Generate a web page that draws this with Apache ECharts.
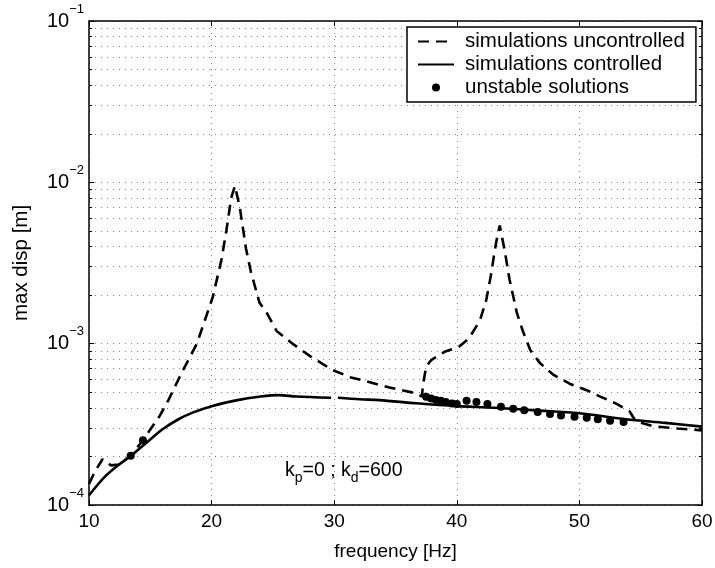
<!DOCTYPE html>
<html>
<head>
<meta charset="utf-8">
<script src="https://cdn.jsdelivr.net/npm/echarts@6/dist/echarts.min.js"></script>
<style>
html,body{margin:0;padding:0;background:#fff}
#main{width:715px;height:568px}
</style>
</head>
<body>
<div id="main"></div>
<script>
// values
var freqUnc = [10.0, 10.5, 11.1, 11.8, 12.4, 13.4, 14.4, 15.8, 16.5, 17.6, 18.8, 20.1, 20.8, 21.2, 21.6, 21.9, 22.3, 22.8, 23.2, 23.9, 24.5, 25.3, 26.6, 28.0, 29.8, 31.3, 32.4, 34.5, 36.7, 37.15, 37.25, 37.5, 37.9, 39.0, 40.2, 41.0, 41.9, 42.4, 42.8, 43.1, 43.3, 43.5, 43.9, 44.3, 44.9, 45.4, 46.0, 46.8, 47.9, 49.2, 50.6, 51.7, 53.0, 54.1, 54.6, 56.0, 58.0, 60.0];
var dispUnc = [1.35e-4, 1.62e-4, 1.92e-4, 1.76e-4, 1.78e-4, 2.02e-4, 2.52e-4, 3.6e-4, 4.5e-4, 6.7e-4, 1.0e-3, 1.95e-3, 3.3e-3, 5.0e-3, 8.0e-3, 9.5e-3, 7.0e-3, 3.9e-3, 2.8e-3, 1.8e-3, 1.55e-3, 1.2e-3, 1.0e-3, 8.4e-4, 6.9e-4, 6.2e-4, 5.9e-4, 5.35e-4, 4.92e-4, 4.7e-4, 5.6e-4, 7.2e-4, 7.9e-4, 8.9e-4, 9.6e-4, 1.08e-3, 1.4e-3, 1.86e-3, 2.7e-3, 3.8e-3, 4.6e-3, 5.4e-3, 3.8e-3, 2.5e-3, 1.55e-3, 1.19e-3, 9.1e-4, 7.55e-4, 6.4e-4, 5.65e-4, 5.15e-4, 4.7e-4, 4.25e-4, 3.8e-4, 3.3e-4, 3.08e-4, 2.98e-4, 2.9e-4];

var freqCtl = [10.0, 11.3, 12.4, 13.5, 15.0, 16.0, 17.3, 18.5, 20.0, 22.0, 24.0, 25.5, 26.9, 29.75, 30.0, 30.3, 32.1, 33.7, 36.7, 40.0, 43.0, 46.5, 50.0, 53.8, 57.0, 60.0];
var dispCtl = [1.15e-4, 1.5e-4, 1.77e-4, 2.04e-4, 2.55e-4, 2.95e-4, 3.4e-4, 3.75e-4, 4.1e-4, 4.45e-4, 4.7e-4, 4.8e-4, 4.7e-4, 4.62e-4, null, 4.62e-4, 4.52e-4, 4.47e-4, 4.27e-4, 4.1e-4, 4.01e-4, 3.86e-4, 3.7e-4, 3.4e-4, 3.23e-4, 3.06e-4];

var freqUnst = [13.4, 14.4, 37.5, 37.9, 38.3, 38.7, 39.1, 39.6, 40.0, 40.8, 41.6, 42.5, 43.6, 44.6, 45.5, 46.6, 47.6, 48.5, 49.6, 50.6, 51.5, 52.5, 53.6];
var dispUnst = [2.02e-4, 2.52e-4, 4.69e-4, 4.58e-4, 4.47e-4, 4.43e-4, 4.35e-4, 4.26e-4, 4.22e-4, 4.43e-4, 4.35e-4, 4.22e-4, 4.07e-4, 3.95e-4, 3.86e-4, 3.77e-4, 3.67e-4, 3.59e-4, 3.52e-4, 3.47e-4, 3.40e-4, 3.33e-4, 3.27e-4];

var xTicks = [10, 20, 30, 40, 50, 60];
var yTickExp = [-4, -3, -2, -1];

var FONT = 'Liberation Sans, Arial, Helvetica, sans-serif';

function pairs(xs, ys) {
    return xs.map(function (x, i) { return [x, ys[i]]; });
}

var chart = echarts.init(document.getElementById('main'));

var dotted = {color: '#808080', width: 1, type: [1, 5]};
var noMark = {color: 'rgba(0,0,0,0)', borderColor: 'rgba(0,0,0,0)', borderWidth: 0};

var option = {
    backgroundColor: '#fff',
    animation: false,
    grid: {left: 89, right: 13, top: 21, bottom: 63, containLabel: false, outerBoundsMode: 'none'},
    legend: {
        orient: 'vertical',
        left: 407, top: 27,
        padding: [4, 11, 4, 10],
        itemWidth: 36, itemHeight: 8, itemGap: 2,
        borderColor: '#000', borderWidth: 1.5,
        backgroundColor: '#fff',
        textStyle: {fontFamily: FONT, fontSize: 20.5, color: '#000', padding: [0, 0, 0, 6]},
        data: [
            {name: 'simulations uncontrolled', itemStyle: noMark},
            {name: 'simulations controlled', itemStyle: noMark},
            {name: 'unstable solutions'}
        ]
    },
    xAxis: [{
        type: 'value', min: xTicks[0], max: xTicks[xTicks.length - 1], interval: 10,
        name: 'frequency [Hz]', nameLocation: 'middle', nameGap: 37,
        nameTextStyle: {fontFamily: FONT, fontSize: 19, color: '#000'},
        axisLine: {show: true, lineStyle: {color: '#000', width: 1.5}},
        axisTick: {show: true, inside: true, length: 5, lineStyle: {color: '#000'}},
        axisLabel: {fontFamily: FONT, fontSize: 19, color: '#000', margin: 7},
        splitLine: {show: true, lineStyle: dotted}
    }, {
        type: 'value', position: 'top', min: xTicks[0], max: xTicks[xTicks.length - 1], interval: 10,
        axisLine: {show: true, onZero: false, lineStyle: {color: '#000', width: 1.5}},
        axisTick: {show: true, inside: true, length: 5, lineStyle: {color: '#000'}},
        axisLabel: {show: false},
        splitLine: {show: false}
    }],
    yAxis: [{
        type: 'log', logBase: 10, min: Math.pow(10, yTickExp[0]), max: Math.pow(10, yTickExp[yTickExp.length - 1]),
        name: 'max disp [m]', nameLocation: 'middle', nameGap: 57,
        nameTextStyle: {fontFamily: FONT, fontSize: 20.5, color: '#000'},
        axisLine: {show: true, lineStyle: {color: '#000', width: 1.5}},
        axisTick: {show: true, inside: true, length: 5, lineStyle: {color: '#000'}},
        minorTick: {show: true, splitNumber: 9, length: 3, lineStyle: {color: '#000'}},
        minorSplitLine: {show: true, lineStyle: dotted},
        splitLine: {show: true, lineStyle: dotted},
        axisLabel: {
            margin: 5,
            formatter: function (v) {
                var e = Math.round(Math.log(v) / Math.LN10);
                return '{b|10}{s|\u2212' + Math.abs(e) + '}';
            },
            rich: {
                b: {fontFamily: FONT, fontSize: 20, color: '#000', lineHeight: 37, verticalAlign: 'middle'},
                s: {fontFamily: FONT, fontSize: 13, color: '#000', lineHeight: 6, verticalAlign: 'top'}
            }
        }
    }, {
        type: 'log', logBase: 10, position: 'right', min: Math.pow(10, yTickExp[0]), max: Math.pow(10, yTickExp[yTickExp.length - 1]),
        axisLine: {show: true, lineStyle: {color: '#000', width: 1.5}},
        axisTick: {show: true, inside: true, length: 5, lineStyle: {color: '#000'}},
        minorTick: {show: true, splitNumber: 9, length: 3, lineStyle: {color: '#000'}},
        axisLabel: {show: false},
        splitLine: {show: false}
    }],
    graphic: [{
        type: 'text', left: 285, top: 461,
        style: {
            text: '{a|k}{b|p}{a|=0 ; k}{b|d}{a|=600}',
            rich: {
                a: {fontFamily: FONT, fontSize: 19.5, fill: '#000', lineHeight: 21, verticalAlign: 'top'},
                b: {fontFamily: FONT, fontSize: 14, fill: '#000', lineHeight: 24, verticalAlign: 'bottom'}
            }
        }
    }],
    series: [{
        name: 'simulations uncontrolled', type: 'line',
        data: pairs(freqUnc, dispUnc),
        showSymbol: false, symbol: 'none',
        lineStyle: {color: '#000', width: 2.6, type: [11, 7]},
        itemStyle: {color: '#000'},
        z: 3
    }, {
        name: 'simulations controlled', type: 'line',
        data: pairs(freqCtl, dispCtl),
        showSymbol: false, symbol: 'none', smooth: 0.3,
        lineStyle: {color: '#000', width: 2.6},
        itemStyle: {color: '#000'},
        z: 3
    }, {
        name: 'unstable solutions', type: 'scatter',
        data: pairs(freqUnst, dispUnst),
        symbol: 'circle', symbolSize: 8,
        itemStyle: {color: '#000', opacity: 1},
        z: 4
    }]
};

chart.setOption(option);
</script>
</body>
</html>
